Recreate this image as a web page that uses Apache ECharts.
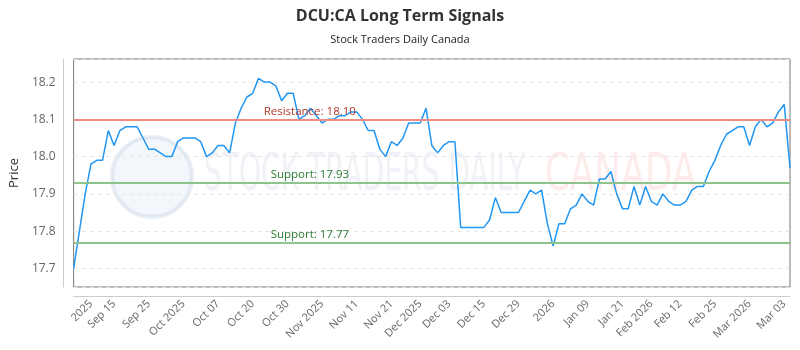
<!DOCTYPE html>
<html>
<head>
<meta charset="utf-8">
<script src="https://cdn.jsdelivr.net/npm/echarts@6/dist/echarts.min.js"></script>
<style>
  html, body { margin: 0; padding: 0; background: #fff; }
  #chart { width: 800px; height: 350px; }
</style>
</head>
<body>
<div id="chart"></div>
<script>
// closing prices, one per trading day
const prices = [
  17.70, 17.80, 17.90, 17.98, 17.99, 17.99, 18.07, 18.03, 18.07, 18.08,
  18.08, 18.08, 18.05, 18.02, 18.02, 18.01, 18.00, 18.00, 18.04, 18.05,
  18.05, 18.05, 18.04, 18.00, 18.01, 18.03, 18.03, 18.01, 18.09, 18.13,
  18.16, 18.17, 18.21, 18.20, 18.20, 18.19, 18.15, 18.17, 18.17, 18.10,
  18.11, 18.13, 18.11, 18.09, 18.10, 18.10, 18.11, 18.11, 18.12, 18.12,
  18.10, 18.07, 18.07, 18.02, 18.00, 18.04, 18.03, 18.05, 18.09, 18.09,
  18.09, 18.13, 18.03, 18.01, 18.03, 18.04, 18.04, 17.81, 17.81, 17.81,
  17.81, 17.81, 17.83, 17.89, 17.85, 17.85, 17.85, 17.85, 17.88, 17.91,
  17.90, 17.91, 17.82, 17.76, 17.82, 17.82, 17.86, 17.87, 17.90, 17.88,
  17.87, 17.94, 17.94, 17.96, 17.90, 17.86, 17.86, 17.92, 17.87, 17.92,
  17.88, 17.87, 17.90, 17.88, 17.87, 17.87, 17.88, 17.91, 17.92, 17.92,
  17.96, 17.99, 18.03, 18.06, 18.07, 18.08, 18.08, 18.03, 18.08, 18.10,
  18.08, 18.09, 18.12, 18.14, 17.97
];
const tickLabels = [
  "2025", "Sep 15", "Sep 25", "Oct 2025", "Oct 07", "Oct 20", "Oct 30",
  "Nov 2025", "Nov 11", "Nov 21", "Dec 2025", "Dec 03", "Dec 15", "Dec 29",
  "2026", "Jan 09", "Jan 21", "Feb 2026", "Feb 12", "Feb 25", "Mar 2026", "Mar 03"
];
// index of the trading day each tick label sits on
const tickIndex = [3, 7, 13, 19, 25, 31, 37, 43, 49, 55, 60, 65, 71, 77, 83, 89, 95, 100, 105, 111, 117, 123];
const resistance = 18.10;
const supports = [17.93, 17.77];

const categories = prices.map((p, i) => String(i));

const chart = echarts.init(document.getElementById("chart"));
chart.setOption({
  animation: false,
  textStyle: { fontFamily: "Open Sans" },
  title: {
    text: "DCU:CA Long Term Signals",
    subtext: "Stock Traders Daily Canada",
    left: "center",
    top: 3,
    itemGap: 10,
    textStyle: { fontSize: 16, fontWeight: "bold", color: "#333", fontFamily: "Open Sans" },
    subtextStyle: { fontSize: 11, color: "#222", fontFamily: "Open Sans" },
  },
  // faint watermark behind the plot
  graphic: [
    {
      type: "circle",
      shape: { cx: 152, cy: 177, r: 40 },
      style: { fill: "rgba(225,235,245,0.4)", stroke: "rgba(200,215,230,0.45)", lineWidth: 4 },
      z: 0,
    },
    {
      type: "text",
      x: 204,
      y: 150,
      scaleX: 0.6,
      style: { text: "STOCK TRADERS DAILY", font: "52px 'DejaVu Sans Condensed'", fill: "rgba(195,205,222,0.25)" },
      z: 0,
    },
    {
      type: "text",
      x: 545,
      y: 150,
      scaleX: 0.76,
      style: { text: "CANADA", font: "52px 'DejaVu Sans Condensed'", fill: "rgba(250,165,165,0.22)" },
      z: 0,
    },
  ],
  grid: {
    left: 70,
    right: 10,
    top: 59,
    bottom: 63,
    show: true,
    borderColor: "#777",
    borderWidth: 1,
  },
  xAxis: {
    type: "category",
    data: categories,
    boundaryGap: false,
    offset: 9,
    axisLine: { lineStyle: { color: "#ccc" } },
    axisTick: { show: false },
    axisLabel: {
      rotate: 45,
      margin: 6,
      color: "#666",
      fontSize: 11,
      interval: (idx) => tickIndex.includes(idx),
      formatter: (val) => tickLabels[tickIndex.indexOf(Number(val))] || "",
    },
    splitLine: { show: false },
  },
  yAxis: {
    type: "value",
    min: 17.65,
    max: 18.262,
    offset: 10,
    name: "Price",
    nameLocation: "middle",
    nameGap: 40,
    nameTextStyle: { fontSize: 13, color: "#333" },
    axisLine: { show: true, lineStyle: { color: "#ccc" } },
    axisTick: { show: false },
    axisLabel: {
      color: "#666",
      fontSize: 12,
      margin: 8,
      showMinLabel: false,
      showMaxLabel: false,
      formatter: (v) => v.toFixed(1),
    },
    splitLine: { lineStyle: { color: "#e6e6e6", type: [4, 4] } },
  },
  series: [
    {
      type: "line",
      data: prices,
      showSymbol: false,
      lineStyle: { color: "#2196f3", width: 1.5 },
      z: 3,
      markLine: {
        silent: true,
        symbol: "none",
        data: [
          {
            yAxis: resistance,
            lineStyle: { color: "#f28b82", width: 2, type: "solid" },
            label: {
              position: "insideStartTop",
              distance: [190, 2],
              formatter: "Resistance: " + resistance.toFixed(2),
              color: "#b03a2e",
              fontSize: 11.5,
            },
          },
          {
            yAxis: supports[0],
            lineStyle: { color: "#8cc48c", width: 2, type: "solid" },
            label: {
              position: "insideStartTop",
              distance: [197, 2],
              formatter: "Support: " + supports[0].toFixed(2),
              color: "#2e7d32",
              fontSize: 11.5,
            },
          },
          {
            yAxis: supports[1],
            lineStyle: { color: "#8cc48c", width: 2, type: "solid" },
            label: {
              position: "insideStartTop",
              distance: [197, 2],
              formatter: "Support: " + supports[1].toFixed(2),
              color: "#2e7d32",
              fontSize: 11.5,
            },
          },
        ],
      },
    },
  ],
});
</script>
</body>
</html>
